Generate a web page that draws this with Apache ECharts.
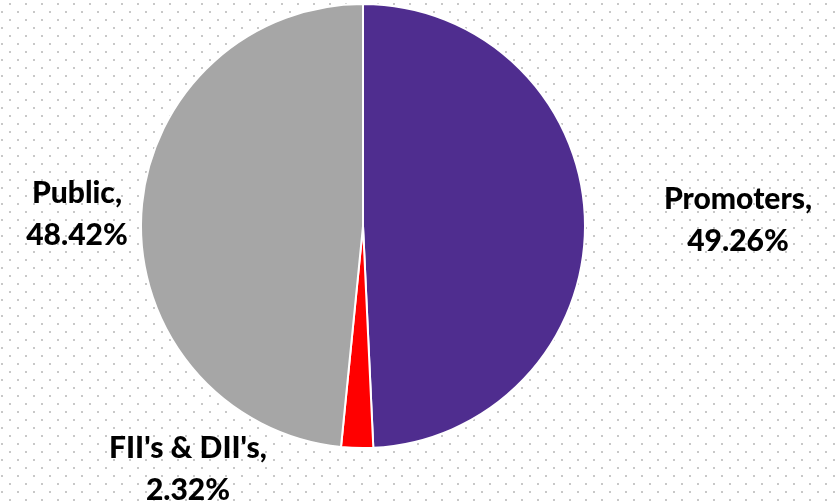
<!DOCTYPE html>
<html>
<head>
<meta charset="utf-8">
<script src="https://cdn.jsdelivr.net/npm/echarts@6/dist/echarts.min.js"></script>
<style>
html,body{margin:0;padding:0;background:#fff;}
#chart{width:838px;height:501px;}
</style>
</head>
<body>
<div id="chart"></div>
<script>
const categories = ["Promoters", "FII's & DII's", "Public"];
const values = [49.26, 2.32, 48.42];
const colors = ['#4f2d8f', '#ff0000', '#a6a6a6'];

// background dot tile
const tile = document.createElement('canvas');
tile.width = 16; tile.height = 16;
const tc = tile.getContext('2d');
tc.fillStyle = '#fff';
tc.fillRect(0, 0, 16, 16);
tc.fillStyle = '#c8c8c8';
tc.fillRect(9, 3, 2, 2);
tc.fillRect(1, 11, 2, 2);

const labelPos = [
  {x: 738, y: 220},
  {x: 188, y: 469},
  {x: 77, y: 214}
];

const chart = echarts.init(document.getElementById('chart'), null, {renderer: 'canvas'});
chart.setOption({
  backgroundColor: {image: tile, repeat: 'repeat'},
  animation: false,
  series: [{
    type: 'pie',
    center: [363, 226],
    radius: [0, 222],
    startAngle: 90,
    clockwise: true,
    avoidLabelOverlap: false,
    data: categories.map((c, i) => ({name: c, value: values[i], itemStyle: {color: colors[i]}})),
    itemStyle: {borderColor: '#fff', borderWidth: 2},
    label: {
      show: true,
      position: 'outside',
      formatter: p => p.name + ',\n' + p.value.toFixed(2) + '%',
      fontFamily: 'Lato',
      fontWeight: 900,
      fontSize: 30,
      lineHeight: 42,
      color: '#000',
      align: 'center'
    },
    labelLine: {show: false},
    labelLayout: function (params) {
      const p = labelPos[params.dataIndex];
      return {x: p.x, y: p.y, align: 'center', verticalAlign: 'middle'};
    },
    emphasis: {disabled: true}
  }]
});
</script>
</body>
</html>
